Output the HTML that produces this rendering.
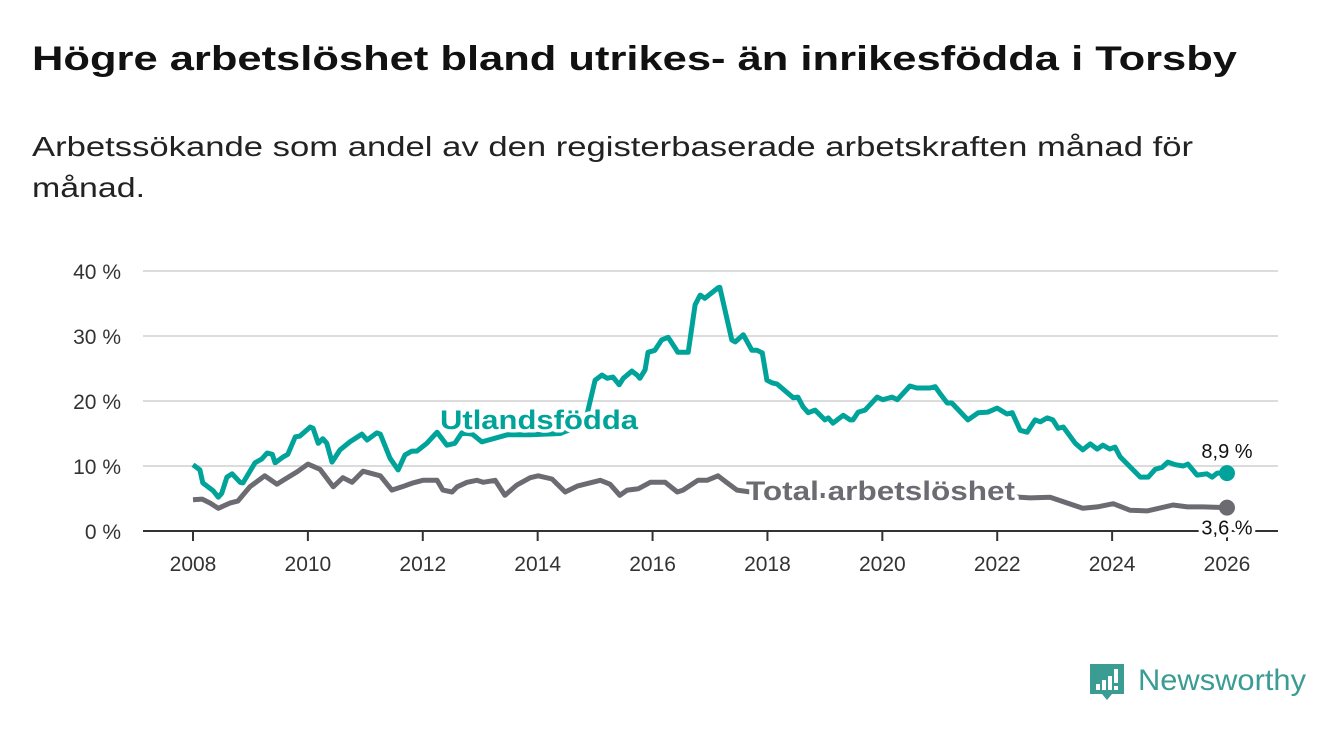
<!DOCTYPE html>
<html><head><meta charset="utf-8"><style>
html,body{margin:0;padding:0;background:#fff;width:1340px;height:734px;overflow:hidden}
svg{display:block}
text{font-family:"Liberation Sans","DejaVu Sans",sans-serif}
</style></head><body>
<svg id="chart" width="1340" height="734" viewBox="0 0 1340 734">
<text x="32" y="70" font-size="34" font-weight="bold" fill="#111" textLength="1205" lengthAdjust="spacingAndGlyphs">Högre arbetslöshet bland utrikes- än inrikesfödda i Torsby</text>
<text x="32" y="156" font-size="28" fill="#222" textLength="1161" lengthAdjust="spacingAndGlyphs">Arbetssökande som andel av den registerbaserade arbetskraften månad för</text>
<text x="32" y="197" font-size="28" fill="#222" textLength="113" lengthAdjust="spacingAndGlyphs">månad.</text>
<g id="grid"></g><g id="axes"></g><g id="lines"></g><g id="labels"></g>
<g>
<path d="M1090 664 h34 v30 h-12 l-5 6 l-5 -6 h-12 z" fill="#3b9c94"/>
<rect x="1096" y="684" width="4" height="6" fill="#fff"/><rect x="1102" y="680" width="4" height="10" fill="#fff"/><rect x="1108" y="676" width="4" height="14" fill="#fff"/><rect x="1114" y="669" width="4" height="14" fill="#fff"/><rect x="1114" y="686" width="4" height="4" fill="#fff"/>
<text x="1138" y="690" font-size="30" fill="#3b9c94" textLength="168" lengthAdjust="spacingAndGlyphs">Newsworthy</text>
</g>
</svg>
<script>
const yTicks=[0,10,20,30,40];
const yTickLabels=["0 %","10 %","20 %","30 %","40 %"];
const xTicks=[2008,2010,2012,2014,2016,2018,2020,2022,2024,2026];
const foreignYears=[2008.00,2008.12,2008.17,2008.35,2008.44,2008.50,2008.59,2008.68,2008.82,2008.87,2009.08,2009.20,2009.29,2009.38,2009.43,2009.57,2009.65,2009.78,2009.86,2010.04,2010.09,2010.18,2010.26,2010.33,2010.42,2010.56,2010.73,2010.94,2011.03,2011.20,2011.26,2011.43,2011.57,2011.69,2011.81,2011.90,2012.07,2012.25,2012.42,2012.56,2012.68,2012.86,2013.03,2013.47,2013.87,2014.39,2014.82,2014.90,2015.00,2015.12,2015.21,2015.31,2015.42,2015.49,2015.64,2015.73,2015.78,2015.87,2015.92,2016.04,2016.16,2016.27,2016.39,2016.44,2016.62,2016.74,2016.83,2016.91,2017.14,2017.17,2017.38,2017.44,2017.58,2017.73,2017.82,2017.91,2017.99,2018.08,2018.17,2018.45,2018.53,2018.62,2018.71,2018.83,2018.92,2019.00,2019.06,2019.14,2019.32,2019.44,2019.49,2019.58,2019.70,2019.91,2020.01,2020.17,2020.26,2020.48,2020.60,2020.69,2020.83,2020.92,2021.00,2021.13,2021.21,2021.49,2021.67,2021.84,2022.00,2022.17,2022.26,2022.40,2022.52,2022.66,2022.75,2022.87,2022.97,2023.06,2023.15,2023.36,2023.49,2023.62,2023.74,2023.84,2023.96,2024.05,2024.14,2024.49,2024.63,2024.75,2024.87,2024.97,2025.10,2025.24,2025.32,2025.48,2025.65,2025.74,2025.83,2026.00];
const foreignValues=[10.2,9.4,7.4,6.2,5.2,5.8,8.3,8.8,7.5,7.4,10.5,11.1,12.0,11.8,10.5,11.4,11.8,14.5,14.6,16.0,15.8,13.5,14.2,13.5,10.6,12.5,13.7,14.9,14.0,15.1,14.9,11.2,9.4,11.7,12.3,12.3,13.5,15.2,13.2,13.5,15.1,14.9,13.7,14.8,14.8,15.0,16.5,19.5,23.2,24.0,23.5,23.7,22.5,23.5,24.6,24.0,23.5,24.8,27.5,27.8,29.4,29.8,28.2,27.5,27.5,34.8,36.3,35.8,37.4,37.5,29.4,29.1,30.2,27.8,27.8,27.4,23.2,22.8,22.6,20.5,20.6,19.1,18.2,18.6,17.8,17.1,17.4,16.6,17.8,17.1,17.1,18.3,18.6,20.6,20.2,20.6,20.2,22.3,22.0,22.0,22.0,22.2,21.2,19.7,19.7,17.1,18.2,18.3,18.9,18.0,18.2,15.5,15.2,17.1,16.8,17.4,17.1,15.8,16.0,13.5,12.5,13.4,12.6,13.2,12.6,12.9,11.4,8.3,8.3,9.5,9.8,10.6,10.2,10.0,10.3,8.6,8.8,8.3,8.9,8.9];
const totalYears=[2008.00,2008.16,2008.30,2008.44,2008.64,2008.78,2008.99,2009.25,2009.46,2009.57,2009.81,2010.00,2010.21,2010.44,2010.61,2010.77,2010.96,2011.26,2011.46,2011.64,2011.83,2012.00,2012.25,2012.35,2012.51,2012.60,2012.77,2012.94,2013.05,2013.26,2013.43,2013.64,2013.87,2014.01,2014.25,2014.48,2014.69,2015.09,2015.26,2015.43,2015.56,2015.75,2015.96,2016.22,2016.43,2016.53,2016.79,2016.95,2017.14,2017.30,2017.47,2017.87,2018.57,2019.44,2020.31,2021.18,2022.05,2022.40,2022.57,2022.92,2023.49,2023.74,2024.02,2024.31,2024.61,2025.06,2025.31,2025.58,2026.00];
const totalValues=[4.8,4.9,4.3,3.5,4.3,4.6,6.8,8.5,7.2,7.8,9.1,10.3,9.5,6.8,8.2,7.5,9.2,8.5,6.3,6.8,7.4,7.8,7.8,6.3,6.0,6.8,7.5,7.8,7.5,7.8,5.5,7.1,8.2,8.5,8.0,6.0,6.9,7.8,7.2,5.5,6.3,6.5,7.5,7.5,6.0,6.3,7.8,7.8,8.5,7.4,6.3,5.8,5.5,5.4,5.5,5.5,5.4,5.2,5.1,5.2,3.5,3.7,4.2,3.2,3.1,4.0,3.7,3.7,3.6];

const NS="http://www.w3.org/2000/svg";
const X=y=>193+(y-2008)*(1227-193)/18;
const Y=v=>531-v*6.5;
function mk(tag,attrs,parent,txt){const e=document.createElementNS(NS,tag);for(const k in attrs)e.setAttribute(k,attrs[k]);if(txt!=null)e.textContent=txt;parent.appendChild(e);return e;}
const grid=document.getElementById('grid'),axes=document.getElementById('axes'),lines=document.getElementById('lines'),labels=document.getElementById('labels');
yTicks.forEach((t,i)=>{
 if(t>0){const g=mk('line',{x1:143,x2:1278,y1:Y(t),y2:Y(t),stroke:'#dcdcdc','stroke-width':2},grid);
 
 }
 const l=mk('text',{x:121,y:Y(t)+8,'text-anchor':'end','font-size':21,fill:'#333'},axes,yTickLabels[i]);
 
 
});
const ax=mk('line',{x1:143,x2:1278,y1:531,y2:531,stroke:'#333','stroke-width':2},axes);


xTicks.forEach(t=>{
 const tk=mk('line',{x1:X(t),x2:X(t),y1:531,y2:541,stroke:'#333','stroke-width':2},axes);
 
 
 const l=mk('text',{x:X(t),y:571,'text-anchor':'middle','font-size':21,fill:'#333'},axes,String(t));
 
 
});
function path(xs,vs){return xs.map((x,i)=>(i?'L':'M')+X(x).toFixed(1)+' '+Y(vs[i]).toFixed(1)).join(' ');}
const pt=mk('path',{d:path(totalYears,totalValues),fill:'none',stroke:'#6d6b72','stroke-width':5,'stroke-linejoin':'round'},lines);


const pf=mk('path',{d:path(foreignYears,foreignValues),fill:'none',stroke:'#00a39a','stroke-width':5,'stroke-linejoin':'round'},lines);


const lf=foreignValues.length-1, lt=totalValues.length-1;
const d1=mk('circle',{cx:X(foreignYears[lf]),cy:Y(foreignValues[lf]),r:8,fill:'#00a39a'},lines);


const d2=mk('circle',{cx:X(totalYears[lt]),cy:Y(totalValues[lt]),r:8,fill:'#6d6b72'},lines);


function halo(attrs,txt,name){
 const a=Object.assign({},attrs,{stroke:'#fff','stroke-width':7,'stroke-linejoin':'round'});
 mk('text',a,labels,txt);
 const t=mk('text',attrs,labels,txt);
 
 
}
halo({x:440,y:429,'font-size':27,'font-weight':'bold',fill:'#00a39a',textLength:198,lengthAdjust:'spacingAndGlyphs'},'Utlandsfödda','series-label-foreign');
halo({x:746,y:500,'font-size':27,'font-weight':'bold',fill:'#6d6b72',textLength:269,lengthAdjust:'spacingAndGlyphs'},'Total arbetslöshet','series-label-total');
halo({x:X(2026),y:Y(foreignValues[lf])-15,'font-size':20,fill:'#111','text-anchor':'middle'},String(foreignValues[lf]).replace('.',',')+' %','end-label-foreign');
halo({x:X(2026),y:Y(totalValues[lt])+27,'font-size':20,fill:'#111','text-anchor':'middle'},String(totalValues[lt]).replace('.',',')+' %','end-label-total');
</script>
</body></html>
